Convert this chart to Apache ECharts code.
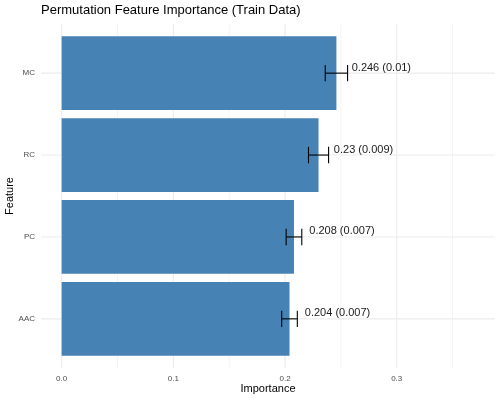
<!DOCTYPE html>
<html><head><meta charset="utf-8">
<script src="https://cdn.jsdelivr.net/npm/echarts@6/dist/echarts.min.js"></script>
<style>html,body{margin:0;padding:0;background:#fff}#c{width:500px;height:400px}</style>
</head><body><div id="c"></div>
<script>
const categories = ['AAC', 'PC', 'RC', 'MC'];
const importance = [0.204, 0.208, 0.23, 0.246];
const sdValues = [0.007, 0.007, 0.009, 0.01];
const majorTicks = [0, 0.1, 0.2, 0.3];
const minorTicks = [0.05, 0.15, 0.25, 0.35];
const X_MIN = -0.0185, X_MAX = 0.388;
const LABEL_OFFSET = 0.0137;
const FONT = "'Liberation Sans', Arial, sans-serif";

const labels = importance.map((v, i) => String(v) + ' (' + String(sdValues[i]) + ')');

const chart = echarts.init(document.getElementById('c'), null, {renderer: 'canvas'});

const vGridData = majorTicks.map(v => [v, 0, 1]).concat(minorTicks.map(v => [v, 0, 0]));
const hGridData = categories.map((c, i) => [X_MIN, i]);
const errData = categories.map((c, i) => [importance[i] - sdValues[i], importance[i] + sdValues[i], i, importance[i]]);

chart.setOption({
  animation: false,
  backgroundColor: '#ffffff',
  title: {
    text: 'Permutation Feature Importance (Train Data)',
    left: 41, top: 4, padding: 0,
    textStyle: {fontFamily: FONT, fontSize: 13, fontWeight: 'normal', color: '#000000'}
  },
  grid: {left: 41, right: 5, top: 32.2, bottom: 40.2, containLabel: false, outerBoundsMode: 'none'},
  xAxis: {
    type: 'value', min: X_MIN, max: X_MAX, splitNumber: 4,
    name: 'Importance', nameLocation: 'middle', nameGap: 24, nameMoveOverlap: false,
    nameTextStyle: {fontFamily: FONT, fontSize: 11, color: '#000000'},
    axisLine: {show: false}, axisTick: {show: false}, splitLine: {show: false},
    axisLabel: {
      fontFamily: FONT, fontSize: 8, color: '#4D4D4D', margin: 14.5,
      showMinLabel: false, showMaxLabel: false,
      formatter: v => (Math.abs(v - Math.round(v * 10) / 10) < 1e-9 ? v.toFixed(1) : '')
    }
  },
  yAxis: {
    type: 'category', data: categories,
    name: 'Feature', nameLocation: 'middle', nameGap: 26, nameRotate: 90, nameMoveOverlap: false,
    nameTextStyle: {fontFamily: FONT, fontSize: 11, color: '#000000'},
    axisLine: {show: false}, axisTick: {show: false}, splitLine: {show: false},
    axisLabel: {fontFamily: FONT, fontSize: 8, color: '#4D4D4D', margin: 6}
  },
  series: [
    {
      type: 'custom', z: 1, clip: false, silent: true,
      data: vGridData, encode: {x: 0, y: 1},
      renderItem: (params, api) => {
        const v = api.value(0);
        const band = api.size([0, 1])[1];
        const top = api.coord([v, categories.length - 1])[1] - 0.6 * band;
        const bot = api.coord([v, 0])[1] + 0.6 * band;
        const x = api.coord([v, 0])[0];
        const major = api.value(2) === 1;
        return {type: 'line', shape: {x1: x, y1: top, x2: x, y2: bot},
          style: {stroke: major ? '#EBEBEB' : '#F4F4F4', lineWidth: major ? 1.1 : 1}};
      }
    },
    {
      type: 'custom', z: 1, clip: false, silent: true,
      data: hGridData, encode: {x: 0, y: 1},
      renderItem: (params, api) => {
        const i = api.value(1);
        const p1 = api.coord([X_MIN, i]);
        const p2 = api.coord([X_MAX, i]);
        return {type: 'line', shape: {x1: p1[0], y1: p1[1], x2: p2[0], y2: p2[1]},
          style: {stroke: '#EBEBEB', lineWidth: 1.1}};
      }
    },
    {
      type: 'bar', z: 2, data: importance, barWidth: '90%',
      itemStyle: {color: '#4682B4'}, silent: true
    },
    {
      type: 'custom', z: 3, clip: false, silent: true,
      data: errData, encode: {x: [0, 1], y: 2},
      renderItem: (params, api) => {
        const i = api.value(2);
        const lo = api.coord([api.value(0), i]);
        const hi = api.coord([api.value(1), i]);
        const band = api.size([0, 1])[1];
        const cap = 0.1 * band;
        const lp = api.coord([api.value(3) + LABEL_OFFSET, i]);
        return {type: 'group', children: [
          {type: 'line', shape: {x1: lo[0], y1: lo[1], x2: hi[0], y2: hi[1]}, style: {stroke: '#000', lineWidth: 1.1}},
          {type: 'line', shape: {x1: lo[0], y1: lo[1] - cap, x2: lo[0], y2: lo[1] + cap}, style: {stroke: '#000', lineWidth: 1.1}},
          {type: 'line', shape: {x1: hi[0], y1: hi[1] - cap, x2: hi[0], y2: hi[1] + cap}, style: {stroke: '#000', lineWidth: 1.1}},
          {type: 'text', style: {text: labels[params.dataIndex], x: lp[0], y: lp[1] - 5.5,
            fill: '#1A1A1A', fontSize: 11, fontFamily: FONT, align: 'left', verticalAlign: 'middle'}}
        ]};
      }
    }
  ]
});
</script>
</body></html>
